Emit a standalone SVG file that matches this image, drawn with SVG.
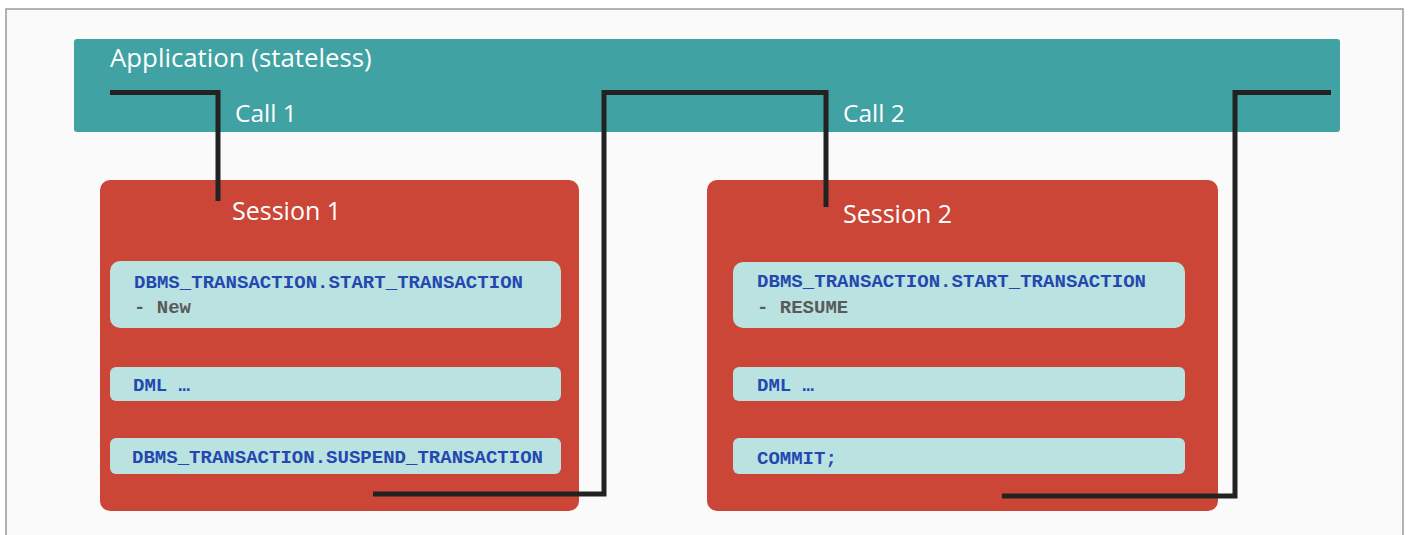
<svg xmlns="http://www.w3.org/2000/svg" width="1409" height="535" viewBox="0 0 1409 535">
<style>
.title{font-family:"Open Sans","Noto Sans",sans-serif;fill:#ffffff;}
.code{font-family:"Liberation Mono","DejaVu Sans Mono",monospace;font-weight:bold;font-size:19px;fill:#2447b0;}
.sub{fill:#5a5a5a;}
.session{fill:#cc4637;}
.step{fill:#b9e2e1;}
.wire{fill:none;stroke:#222222;stroke-width:5;stroke-linejoin:miter;}
</style>
<rect x="0" y="0" width="1409" height="535" fill="#ffffff"/>
<rect x="6" y="9" width="1397" height="540" fill="#fafafa" stroke="#9a9a9a" stroke-width="1.5"/>
<g id="application">
<rect x="74" y="39" width="1266" height="93" rx="3" fill="#40a2a3"/>
<text class="title" x="110" y="67" font-size="25.8">Application (stateless)</text>
<text class="title" x="235" y="122" font-size="24.5">Call 1</text>
<text class="title" x="843" y="122" font-size="24.5">Call 2</text>
</g>
<g id="session1">
<rect class="session" x="100" y="180" width="479" height="331" rx="10"/>
<text class="title" x="232" y="220" font-size="25">Session 1</text>
<g id="s1-start">
<rect class="step" x="110" y="261" width="451" height="67" rx="10"/>
<text class="code" x="134" y="288" textLength="389">DBMS_TRANSACTION.START_TRANSACTION</text>
<text class="code sub" x="134" y="313">- New</text>
</g>
<g id="s1-dml">
<rect class="step" x="110" y="367" width="451" height="34" rx="6"/>
<text class="code" x="133" y="391">DML …</text>
</g>
<g id="s1-suspend">
<rect class="step" x="110" y="438" width="451" height="36" rx="6"/>
<text class="code" x="132" y="463" textLength="411">DBMS_TRANSACTION.SUSPEND_TRANSACTION</text>
</g>
</g>
<g id="session2">
<rect class="session" x="707" y="180" width="511" height="331" rx="10"/>
<text class="title" x="843" y="223" font-size="25">Session 2</text>
<g id="s2-start">
<rect class="step" x="733" y="262" width="452" height="66" rx="10"/>
<text class="code" x="757" y="287" textLength="389">DBMS_TRANSACTION.START_TRANSACTION</text>
<text class="code sub" x="757" y="313">- RESUME</text>
</g>
<g id="s2-dml">
<rect class="step" x="733" y="367" width="452" height="34" rx="6"/>
<text class="code" x="757" y="391">DML …</text>
</g>
<g id="s2-commit">
<rect class="step" x="733" y="438" width="452" height="36" rx="6"/>
<text class="code" x="757" y="464">COMMIT;</text>
</g>
</g>
<g id="connectors">
<polyline class="wire" points="110,92.5 218,92.5 218,201"/>
<polyline class="wire" points="373,494 604,494 604,92.5 826,92.5 826,207"/>
<polyline class="wire" points="1002,496 1235,496 1235,92.5 1331,92.5"/>
</g>
</svg>
